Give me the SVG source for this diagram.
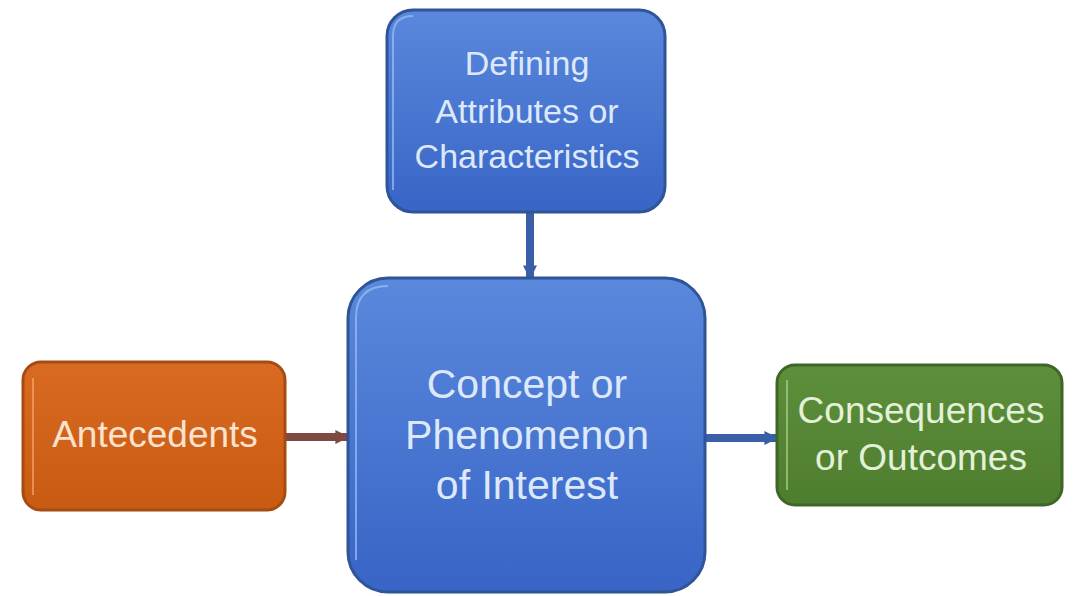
<svg xmlns="http://www.w3.org/2000/svg" width="1076" height="596" viewBox="0 0 1076 596">
<defs>
<linearGradient id="gBlue" x1="0" y1="0" x2="0" y2="1"><stop offset="0" stop-color="#5A88DC"/><stop offset="1" stop-color="#3865C6"/></linearGradient>
<linearGradient id="gOrange" x1="0" y1="0" x2="0" y2="1"><stop offset="0" stop-color="#D96A22"/><stop offset="1" stop-color="#C85A12"/></linearGradient>
<linearGradient id="gGreen" x1="0" y1="0" x2="0" y2="1"><stop offset="0" stop-color="#5E8F3C"/><stop offset="1" stop-color="#4D7D2E"/></linearGradient>
<marker id="aBlue" viewBox="0 0 10 10" refX="9" refY="5" markerWidth="14" markerHeight="16" markerUnits="userSpaceOnUse" orient="auto"><path d="M0,0 L10,5 L0,10 Z" fill="#3A5FA8"/></marker>
<marker id="aBrown" viewBox="0 0 10 10" refX="9" refY="5" markerWidth="14" markerHeight="16" markerUnits="userSpaceOnUse" orient="auto"><path d="M0,0 L10,5 L0,10 Z" fill="#7E4A42"/></marker>
</defs>
<style>
.blue{fill:url(#gBlue);stroke:#2F5597;stroke-width:3}
.orange{fill:url(#gOrange);stroke:#A64C12;stroke-width:3}
.green{fill:url(#gGreen);stroke:#3E6626;stroke-width:3}
.hl{fill:none;stroke-width:2;opacity:0.7}
text{font-family:"Liberation Sans",Arial,sans-serif;text-anchor:middle}
.tb{fill:#DDE9FB}
.to{fill:#FBE2CE}
.tg{fill:#E3F1D8}
</style>
<rect width="1076" height="596" fill="#FFFFFF"/>
<g id="connectors">
<line x1="530" y1="213" x2="530" y2="278" stroke="#3A5FA8" stroke-width="8" marker-end="url(#aBlue)"/>
<line x1="286" y1="437" x2="348" y2="437" stroke="#7E4A42" stroke-width="8" marker-end="url(#aBrown)"/>
<line x1="706" y1="438" x2="777" y2="438" stroke="#3A5FA8" stroke-width="8" marker-end="url(#aBlue)"/>
</g>
<g id="attributes">
<rect class="blue" x="387" y="10" width="278" height="202" rx="26"/>
<path class="hl" stroke="#9CC0F2" d="M393,190 L393,36 Q393,16 413,16"/>
<text class="tb" font-size="34"><tspan x="527" y="75">Defining</tspan><tspan x="527" y="123">Attributes or</tspan><tspan x="527" y="168">Characteristics</tspan></text>
</g>
<g id="concept">
<rect class="blue" x="348" y="278" width="357" height="314" rx="40"/>
<path class="hl" stroke="#9CC0F2" d="M356,560 L356,318 Q356,286 388,286"/>
<text class="tb" font-size="41"><tspan x="527" y="398">Concept or</tspan><tspan x="527" y="449">Phenomenon</tspan><tspan x="527" y="499">of Interest</tspan></text>
</g>
<g id="antecedents">
<rect class="orange" x="23" y="362" width="262" height="148" rx="18"/>
<path class="hl" stroke="#F4A766" d="M33,495 L33,378"/>
<text class="to" font-size="37" x="155" y="447">Antecedents</text>
</g>
<g id="consequences">
<rect class="green" x="777" y="365" width="285" height="140" rx="18"/>
<path class="hl" stroke="#A9D08E" d="M787,490 L787,380"/>
<text class="tg" font-size="37"><tspan x="921" y="423">Consequences</tspan><tspan x="921" y="470">or Outcomes</tspan></text>
</g>
</svg>
